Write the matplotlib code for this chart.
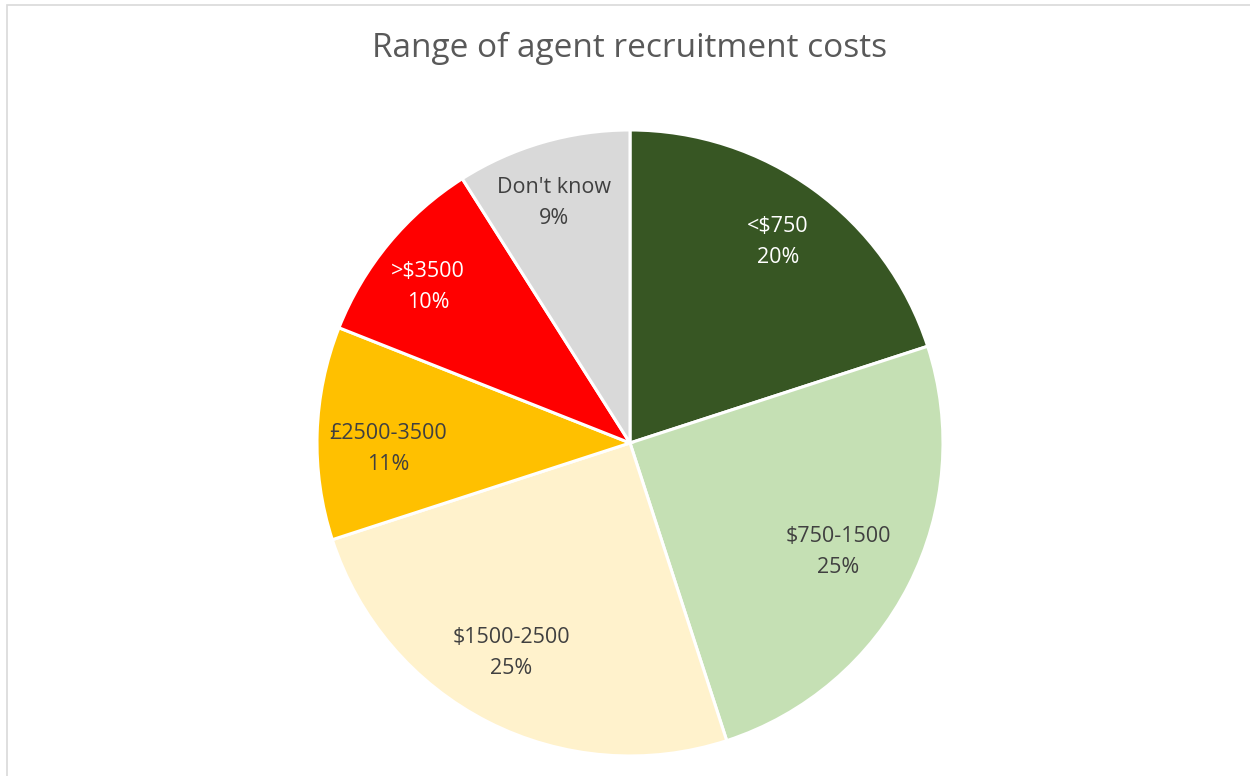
import matplotlib
matplotlib.use('Agg')
import matplotlib.pyplot as plt
from matplotlib.patches import Rectangle

labels = ['<$750', '$750-1500', '$1500-2500', '£2500-3500', '>$3500', "Don't know"]
shares = [20, 25, 25, 11, 10, 9]
colors = ['#375623', '#C5E0B4', '#FFF2CC', '#FFC000', '#FF0000', '#D9D9D9']
text_colors = ['white', '#404040', '#404040', '#404040', 'white', '#404040']
# label centres in pie units (radius = 1)
label_pos = [(0.473, 0.642), (0.665, -0.348), (-0.380, -0.671),
             (-0.773, -0.019), (-0.645, 0.499), (-0.243, 0.766)]
title = 'Range of agent recruitment costs'

plt.rcParams['font.family'] = ['Open Sans', 'DejaVu Sans']

fig = plt.figure(figsize=(12.5, 7.76), dpi=100)

# thin grey chart-area frame
fig.patches.append(Rectangle((7 / 1250, -0.05), 1.2, 1 - 5 / 776 + 0.05,
                             transform=fig.transFigure, fill=False,
                             edgecolor='#D9D9D9', linewidth=1.2))

ax = fig.add_axes([0.2536, 0.0258, 0.5008, 0.8067])
ax.pie(shares, colors=colors, startangle=90, counterclock=False,
       radius=1, wedgeprops=dict(edgecolor='white', linewidth=2.2))
ax.set_xlim(-1, 1)
ax.set_ylim(-1, 1)
ax.set_aspect('equal')
ax.axis('off')

for lab, val, (x, y), tc in zip(labels, shares, label_pos, text_colors):
    ax.text(x, y, f'{lab}\n{val}%', ha='center', va='center',
            fontsize=15.5, color=tc, linespacing=1.62)

fig.text(0.504, 1 - 48 / 776, title, ha='center', va='center',
         fontsize=24, color='#595959')

plt.savefig('out.png', dpi=100)
